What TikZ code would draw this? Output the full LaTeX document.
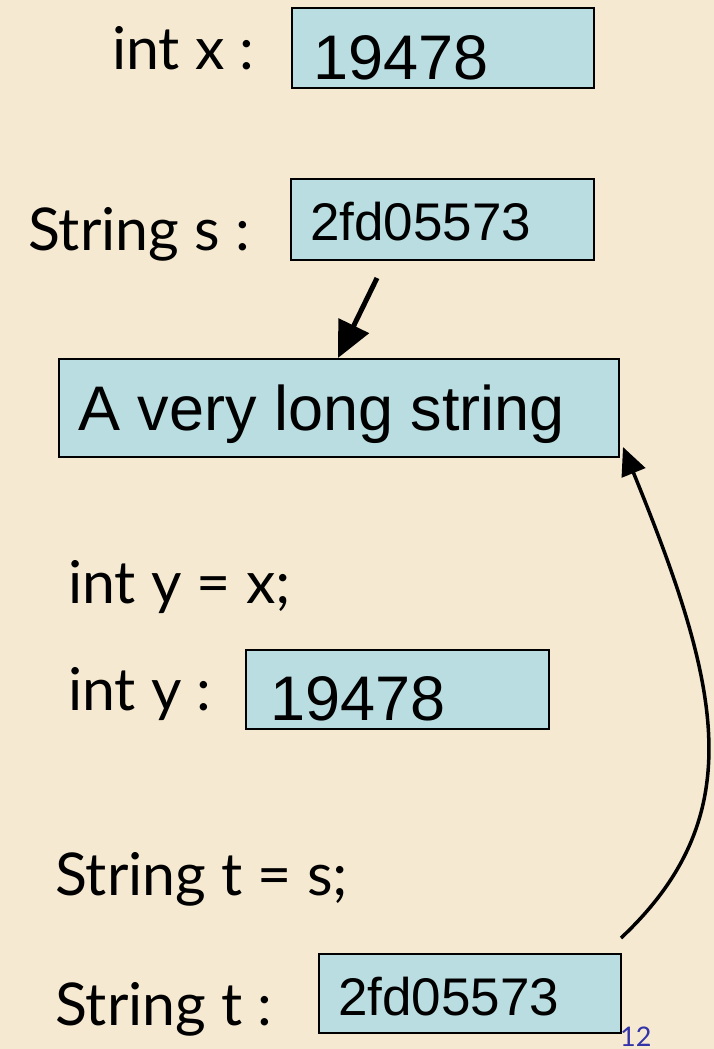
\documentclass[tikz,border=0pt]{standalone}
\usepackage{fontspec}
\setmainfont{Lato}
\newfontfamily\arialf{Liberation Sans}
\usetikzlibrary{arrows.meta}
\definecolor{bg}{RGB}{245,233,209}
\definecolor{boxfill}{RGB}{186,221,225}
\definecolor{pgnum}{RGB}{51,51,170}
\begin{document}
\begin{tikzpicture}[x=1pt,y=-1pt,
  box/.style={draw=black, line width=2pt, fill=boxfill, inner sep=0pt, anchor=north west},
  lbl/.style={anchor=base west, inner sep=0pt, font=\fontsize{59}{66}\selectfont},
  val/.style={anchor=base west, inner sep=0pt, font=\arialf\fontsize{63}{70}\selectfont},
  sval/.style={anchor=base west, inner sep=0pt, font=\arialf\fontsize{53}{60}\selectfont},
  ptr/.style={line width=5pt, -{Triangle[length=36pt,width=33pt]}},
  curveptr/.style={line width=3.5pt, -{Triangle[length=28pt,width=25pt]}}]
\fill[bg] (0,0) rectangle (714,1049);
\useasboundingbox (0,0) rectangle (714,1049);
% int x
\node[lbl] (lx) at (112,70) {int x :};
\node[box, minimum width=302pt, minimum height=80pt] (xbox) at (291,7) {};
\node[val] (xval) at (313,79) {19478};
% String s
\node[lbl] (ls) at (28,250) {String s :};
\node[box, minimum width=303pt, minimum height=81pt] (sbox) at (290,178) {};
\node[sval] (sval) at (310,240) {2fd05573};
% long string
\node[box, minimum width=560pt, minimum height=98pt] (strbox) at (58,358) {};
\node[val] (strval) at (78,430) {A very long string};
% int y
\node[lbl] (lyx) at (68,603) {int y = x;};
\node[lbl] (ly) at (68,710) {int y :};
\node[box, minimum width=303pt, minimum height=79pt] (ybox) at (245,649) {};
\node[val] (yval) at (270,720) {19478};
% String t
\node[lbl] (lts) at (55,895) {String t = s;};
\node[lbl] (lt) at (55,1025) {String t :};
\node[box, minimum width=302pt, minimum height=79pt] (tbox) at (318,953) {};
\node[sval] (tval) at (338,1015) {2fd05573};
% page number
\node[anchor=base west, inner sep=0pt, text=pgnum, font=\fontsize{27}{30}\selectfont] (pg) at (620,1046) {12};
% pointers
\coordinate (sfrom) at (377,278);
\coordinate (sto) at (338,358);
\draw[ptr] (sfrom) -- (sto);
\coordinate (tfrom) at (621,938);
\coordinate (tto) at (623,447);
\draw[curveptr] (tfrom) .. controls (752,815) and (720,685) .. (tto);
\end{tikzpicture}
\end{document}
